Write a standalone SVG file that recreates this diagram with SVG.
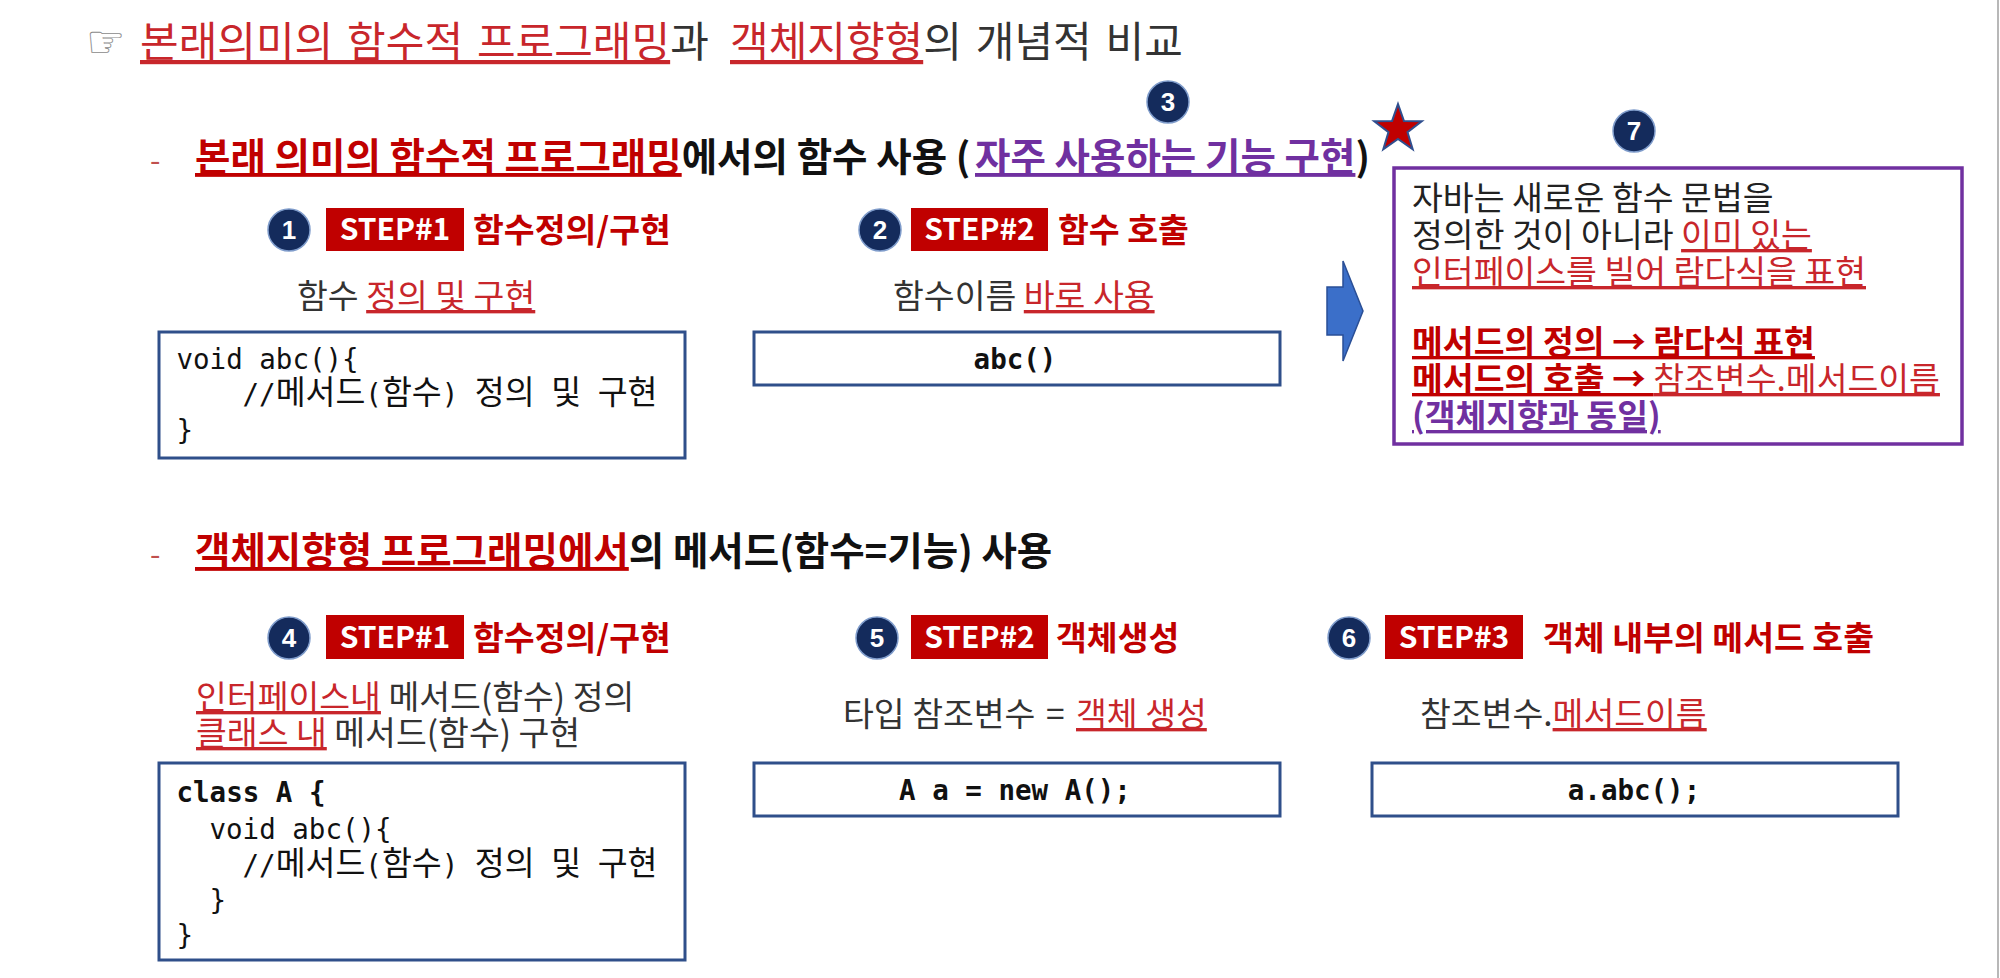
<svg xmlns="http://www.w3.org/2000/svg" width="2000" height="978" viewBox="0 0 2000 978">
<style>
 text { font-family: "Noto Sans CJK KR", "Noto Sans", sans-serif; fill: #222; }
 .title { font-size: 42px; word-spacing: 4.5px; fill: #333; }
 .h { font-size: 38.5px; font-weight: bold; fill: #111; }
 .red { fill: #c00000; }
 .ru { fill: #c8262b; text-decoration: underline; }
 .pu { fill: #7030a0; text-decoration: underline; }
 .u { text-decoration: underline; }
 .dash { fill: #c0504d; font-weight: normal; font-size: 30px; }
 .step { font-size: 30px; font-weight: bold; fill: #fff; text-anchor: middle; }
 .lab { font-size: 33.5px; font-weight: bold; fill: #c00000; }
 .sub { font-size: 33.5px; fill: #333; }
 .code { font-family: "DejaVu Sans Mono", "Noto Sans CJK KR", monospace; font-size: 27.5px; fill: #111; }
 .k { font-family: "Noto Sans CJK KR", sans-serif; font-size: 32.5px; }
 .cb { font-weight: bold; text-anchor: middle; }
 .bold { font-weight: bold; }
 .box { fill: #fff; stroke: #2f4f8a; stroke-width: 3; }
 .srect { fill: #c00000; }
 .badge circle { fill: #142b5c; stroke: #7f9ccb; stroke-width: 1.5; }
 .badge text { font-family: "Liberation Sans", Arial, sans-serif; font-weight: bold; font-size: 26px; fill: #fff; text-anchor: middle; }
 .note { font-size: 33.5px; fill: #222; }
</style>
<rect width="2000" height="978" fill="#fff"/>
<line x1="1998" y1="0" x2="1998" y2="978" stroke="#b8b8b8" stroke-width="2"/>

<g id="title">
 <text x="86" y="57" style="font-family:'DejaVu Sans',sans-serif;font-size:44px;fill:#8a8a8a">☞</text>
 <text class="title" y="57"><tspan x="140" class="ru">본래의미의 함수적 프로그래밍</tspan><tspan>과 </tspan><tspan x="730" class="ru">객체지향형</tspan><tspan>의 개념적 비교</tspan></text>
</g>

<g id="heading1">
 <text class="h" y="171"><tspan x="150" class="dash">-</tspan><tspan x="195" class="red u">본래 의미의 함수적 프로그래밍</tspan><tspan>에서의 함수 사용 (</tspan><tspan x="975" class="pu">자주 사용하는 기능 구현</tspan><tspan>)</tspan></text>
 <g class="badge"><circle cx="1168" cy="102" r="21"/><text x="1168" y="111">3</text></g>
</g>

<g id="step1-define">
 <g class="badge"><circle cx="289" cy="230" r="21"/><text x="289" y="239">1</text></g>
 <rect class="srect" x="326" y="208" width="138" height="43"/>
 <text class="step" x="395" y="240">STEP#1</text>
 <text class="lab" x="473" y="242">함수정의/구현</text>
 <text class="sub" y="308"><tspan x="297">함수 </tspan><tspan class="ru">정의 및 구현</tspan></text>
 <rect class="box" x="159" y="332" width="526" height="126"/>
 <text class="code" x="176.5" y="369">void abc(){</text>
 <text class="code" x="242.5" y="404">//<tspan class="k">메서드</tspan>(<tspan class="k">함수</tspan>) <tspan class="k">정의</tspan> <tspan class="k">및</tspan> <tspan class="k">구현</tspan></text>
 <text class="code" x="176.5" y="440">}</text>
</g>

<g id="step2-call">
 <g class="badge"><circle cx="880" cy="230" r="21"/><text x="880" y="239">2</text></g>
 <rect class="srect" x="911" y="208" width="137" height="43"/>
 <text class="step" x="979.5" y="240">STEP#2</text>
 <text class="lab" x="1058" y="242">함수 호출</text>
 <text class="sub" y="308"><tspan x="893">함수이름 </tspan><tspan class="ru">바로 사용</tspan></text>
 <rect class="box" x="754" y="332" width="526" height="53"/>
 <text class="code cb" x="1015" y="369">abc()</text>
</g>

<g id="connectors">
 <polygon points="1327,287 1343,287 1343,261 1363,311 1343,361 1343,335 1327,335" fill="#3b6fc9" stroke="#2a4f96" stroke-width="1.5"/>
</g>

<g id="note7">
 <polygon points="1398,104 1403.9,120.9 1421.8,121.3 1407.5,132.1 1412.7,149.2 1398,139 1383.3,149.2 1388.5,132.1 1374.2,121.3 1392.1,120.9" fill="#c00000" stroke="#2f4f8f" stroke-width="2"/>
 <g class="badge"><circle cx="1634" cy="131" r="21"/><text x="1634" y="140">7</text></g>
 <rect x="1394" y="168" width="568" height="276" fill="#fff" stroke="#7030a0" stroke-width="3.5"/>
 <text class="note" x="1412" y="210">자바는 새로운 함수 문법을</text>
 <text class="note" y="247"><tspan x="1412">정의한 것이 아니라 </tspan><tspan class="ru">이미 있는</tspan></text>
 <text class="note" y="284"><tspan x="1412" class="ru">인터페이스를 빌어 람다식을 표현</tspan></text>
 <text class="note" y="354"><tspan x="1412" class="red bold u">메서드의 정의 → 람다식 표현</tspan></text>
 <text class="note" y="391"><tspan x="1412" class="red bold u">메서드의 호출 → </tspan><tspan class="ru">참조변수.메서드이름</tspan></text>
 <text class="note" y="428"><tspan x="1412" class="pu bold">(객체지향과 동일)</tspan></text>
</g>

<g id="heading2">
 <text class="h" y="565"><tspan x="150" class="dash">-</tspan><tspan x="195" class="red u">객체지향형 프로그래밍에서</tspan><tspan>의 메서드(함수=기능) 사용</tspan></text>
</g>

<g id="step4-define">
 <g class="badge"><circle cx="289" cy="638" r="21"/><text x="289" y="647">4</text></g>
 <rect class="srect" x="326" y="615" width="138" height="44"/>
 <text class="step" x="395" y="648">STEP#1</text>
 <text class="lab" x="473" y="650">함수정의/구현</text>
 <text class="sub" y="709"><tspan x="196" class="ru">인터페이스내</tspan> 메서드(함수) 정의</text>
 <text class="sub" y="745"><tspan x="196" class="ru">클래스 내</tspan> 메서드(함수) 구현</text>
 <rect class="box" x="159" y="763" width="526" height="197"/>
 <text class="code bold" x="176.5" y="802">class A {</text>
 <text class="code" x="209.5" y="839">void abc(){</text>
 <text class="code" x="242.5" y="875">//<tspan class="k">메서드</tspan>(<tspan class="k">함수</tspan>) <tspan class="k">정의</tspan> <tspan class="k">및</tspan> <tspan class="k">구현</tspan></text>
 <text class="code" x="209.5" y="910">}</text>
 <text class="code" x="176.5" y="945">}</text>
</g>

<g id="step5-create">
 <g class="badge"><circle cx="877" cy="638" r="21"/><text x="877" y="647">5</text></g>
 <rect class="srect" x="911" y="615" width="137" height="44"/>
 <text class="step" x="979.5" y="648">STEP#2</text>
 <text class="lab" x="1056" y="650">객체생성</text>
 <text class="sub" y="726"><tspan x="843">타입 참조변수</tspan><tspan x="1046">=</tspan><tspan x="1076" class="ru">객체 생성</tspan></text>
 <rect class="box" x="754" y="763" width="526" height="53"/>
 <text class="code cb" x="1015" y="800">A a = new A();</text>
</g>

<g id="step6-invoke">
 <g class="badge"><circle cx="1349" cy="638" r="21"/><text x="1349" y="647">6</text></g>
 <rect class="srect" x="1385" y="615" width="138" height="44"/>
 <text class="step" x="1454" y="648">STEP#3</text>
 <text class="lab" x="1543" y="650">객체 내부의 메서드 호출</text>
 <text class="sub" y="726"><tspan x="1420">참조변수.</tspan><tspan class="ru">메서드이름</tspan></text>
 <rect class="box" x="1372" y="763" width="526" height="53"/>
 <text class="code cb" x="1634" y="800">a.abc();</text>
</g>
</svg>
